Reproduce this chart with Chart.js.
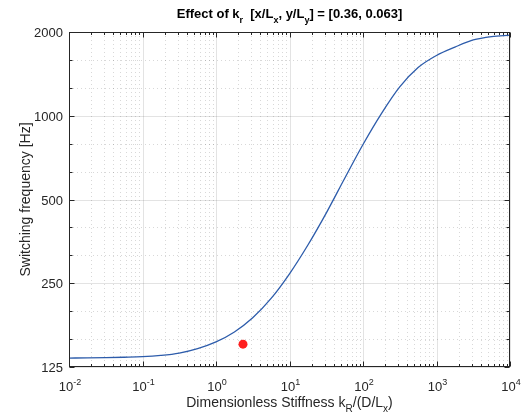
<!DOCTYPE html>
<html>
<head>
<meta charset="utf-8">
<script src="https://cdn.jsdelivr.net/npm/chart.js@4.4.0/dist/chart.umd.min.js"></script>
<style>
  html, body { margin: 0; padding: 0; background: #fff; }
  #wrap { width: 525px; height: 420px; position: relative; }
</style>
</head>
<body>
<div id="wrap"><canvas id="chart"></canvas></div>
<script>
// valori (un punto ogni quarto di decade)
const stiffness = [0.01, 0.0178, 0.0316, 0.0562, 0.1, 0.178, 0.316, 0.562, 1, 1.78, 3.16, 5.62, 10, 17.8, 31.6, 56.2, 100, 178, 316, 562, 1000, 1780, 3160, 5620, 10000];
const frequency = [134.6, 134.8, 135.1, 135.5, 136.1, 137.6, 140.3, 145.6, 153.9, 167.1, 187.9, 220.5, 270.4, 343.2, 446.9, 595.1, 788.4, 1018, 1270, 1491, 1647, 1765, 1872, 1925, 1949];
const markerX = [2.33];
const markerY = [151];

const xTicks = [0.01, 0.1, 1, 10, 100, 1000, 10000];
const xTickExp = ['-2', '-1', '0', '1', '2', '3', '4'];
const yTicks = [125, 250, 500, 1000, 2000];
const yTickLabels = ['125', '250', '500', '1000', '2000'];

const FONT = '"Liberation Sans", Arial, Helvetica, sans-serif';
const AXIS_COLOR = '#262626';

// testo con pedici / apici: parti = [[testo, modo]] modo 0 normale, 1 pedice, 2 apice
function richText(ctx, parts, x, y, size, weight, align) {
    const small = Math.round(size * 0.72);
    let total = 0;
    const widths = parts.map(p => {
        ctx.font = weight + ' ' + (p[1] ? small : size) + 'px ' + FONT;
        const w = ctx.measureText(p[0]).width;
        total += w;
        return w;
    });
    let cx = align === 'center' ? x - total / 2 : x;
    parts.forEach((p, i) => {
        ctx.font = weight + ' ' + (p[1] ? small : size) + 'px ' + FONT;
        let dy = 0;
        if (p[1] === 1) dy = size * 0.35;
        if (p[1] === 2) dy = -size * 0.45;
        ctx.fillText(p[0], cx, y + dy);
        cx += widths[i];
    });
}

const matlabAxes = {
    id: 'matlabAxes',
    beforeDatasetsDraw(chart) {
        const { ctx, chartArea: a, scales: { x, y } } = chart;
        ctx.save();
        ctx.lineWidth = 1;
        // griglia minore
        ctx.strokeStyle = 'rgba(38,38,38,0.18)';
        ctx.setLineDash([1, 3]);
        ctx.beginPath();
        for (let e = -2; e < 4; e++) {
            for (let m = 2; m <= 9; m++) {
                const px = Math.round(x.getPixelForValue(m * Math.pow(10, e))) + 0.5;
                ctx.moveTo(px, a.top); ctx.lineTo(px, a.bottom);
            }
        }
        for (let k = 0; k < 4; k++) {
            [1 / 3, 2 / 3].forEach(f => {
                const py = Math.round(y.getPixelForValue(125 * Math.pow(2, k + f))) + 0.5;
                ctx.moveTo(a.left, py); ctx.lineTo(a.right, py);
            });
        }
        ctx.stroke();
        // griglia principale
        ctx.setLineDash([]);
        ctx.strokeStyle = 'rgba(38,38,38,0.13)';
        ctx.beginPath();
        xTicks.forEach(v => {
            const px = Math.round(x.getPixelForValue(v)) + 0.5;
            ctx.moveTo(px, a.top); ctx.lineTo(px, a.bottom);
        });
        yTicks.forEach(v => {
            const py = Math.round(y.getPixelForValue(v)) + 0.5;
            ctx.moveTo(a.left, py); ctx.lineTo(a.right, py);
        });
        ctx.stroke();
        ctx.restore();
    },
    afterDraw(chart) {
        const { ctx, chartArea: a, scales: { x, y } } = chart;
        const L = Math.round(a.left) + 0.5, R = Math.round(a.right) - 0.5;
        const T = Math.round(a.top) + 0.5, B = Math.round(a.bottom) - 0.5;
        ctx.save();
        ctx.strokeStyle = AXIS_COLOR;
        ctx.lineWidth = 1;
        ctx.strokeRect(L, T, R - L, B - T);
        // tacche
        ctx.beginPath();
        const xTick = (v, len) => {
            const px = Math.round(x.getPixelForValue(v)) + 0.5;
            ctx.moveTo(px, B); ctx.lineTo(px, B - len);
            ctx.moveTo(px, T); ctx.lineTo(px, T + len);
        };
        const yTick = (v, len) => {
            const py = Math.round(y.getPixelForValue(v)) + 0.5;
            ctx.moveTo(L, py); ctx.lineTo(L + len, py);
            ctx.moveTo(R, py); ctx.lineTo(R - len, py);
        };
        xTicks.forEach(v => xTick(v, 5));
        for (let e = -2; e < 4; e++) {
            for (let m = 2; m <= 9; m++) xTick(m * Math.pow(10, e), 2.5);
        }
        yTicks.forEach(v => yTick(v, 5));
        for (let k = 0; k < 4; k++) {
            yTick(125 * Math.pow(2, k + 1 / 3), 3);
            yTick(125 * Math.pow(2, k + 2 / 3), 3);
        }
        ctx.stroke();

        // etichette
        ctx.fillStyle = AXIS_COLOR;
        ctx.textBaseline = 'alphabetic';
        ctx.font = '13px ' + FONT;
        ctx.textAlign = 'right';
        yTicks.forEach((v, i) => {
            ctx.fillText(yTickLabels[i], 63, y.getPixelForValue(v) + 5);
        });
        ctx.textAlign = 'left';
        xTicks.forEach((v, i) => {
            richText(ctx, [['10', 0], [xTickExp[i], 2]], x.getPixelForValue(v) + 1, 391, 13, 'normal', 'center');
        });

        const cx = (a.left + a.right) / 2;
        richText(ctx, [['Dimensionless Stiffness k', 0], ['R', 1], ['/(D/L', 0], ['x', 1], [')', 0]],
            cx, 407, 14, 'normal', 'center');

        ctx.fillStyle = '#000';
        richText(ctx, [['Effect of k', 0], ['r', 1], ['  [x/L', 0], ['x', 1], [', y/L', 0], ['y', 1], ['] = [0.36, 0.063]', 0]],
            cx, 18, 13, 'bold', 'center');

        ctx.fillStyle = AXIS_COLOR;
        ctx.translate(30, (a.top + a.bottom) / 2);
        ctx.rotate(-Math.PI / 2);
        ctx.textAlign = 'center';
        ctx.font = '14px ' + FONT;
        ctx.fillText('Switching frequency [Hz]', 0, 0);
        ctx.restore();
    }
};

const ctx = document.getElementById('chart').getContext('2d');
const chart = new Chart(ctx, {
    type: 'scatter',
    data: {
        datasets: [{
            data: markerX.map((v, i) => ({ x: v, y: markerY[i] })),
            pointRadius: 4.5,
            pointBackgroundColor: '#ff1f1f',
            pointBorderWidth: 0,
            showLine: false
        }, {
            data: stiffness.map((v, i) => ({ x: v, y: frequency[i] })),
            showLine: true,
            borderColor: '#2d5cab',
            borderWidth: 1.3,
            pointRadius: 0,
            cubicInterpolationMode: 'monotone',
            fill: false
        }]
    },
    options: {
        responsive: true,
        maintainAspectRatio: false,
        animation: false,
        layout: { padding: { left: 69, top: 32, right: 15, bottom: 53 } },
        plugins: { legend: { display: false }, tooltip: { enabled: false } },
        scales: {
            x: { type: 'logarithmic', min: 0.01, max: 10000, display: false },
            y: { type: 'logarithmic', min: 125, max: 2000, display: false }
        }
    },
    plugins: [matlabAxes]
});
</script>
</body>
</html>
